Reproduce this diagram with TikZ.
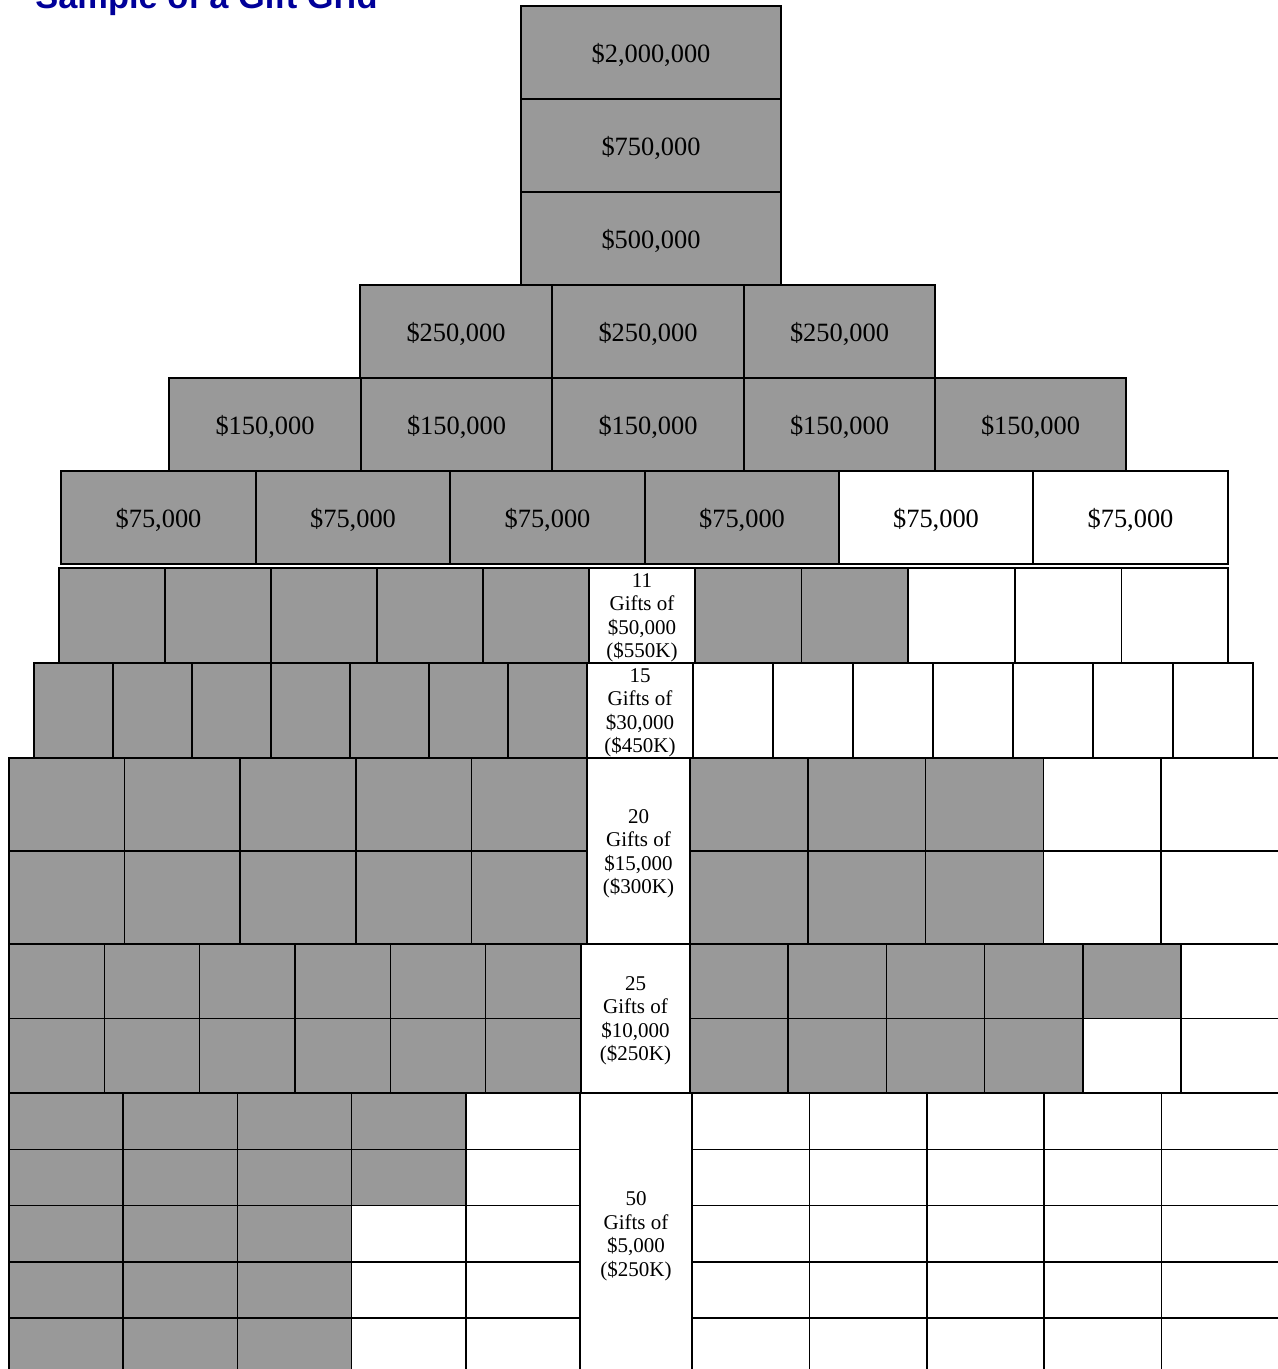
\documentclass[tikz,border=0pt]{standalone}
\usepackage{fontspec}
\setmainfont{Liberation Serif}
\newfontfamily\titlefont{Liberation Sans}
\definecolor{cellgray}{RGB}{153,153,153}
\definecolor{titleblue}{RGB}{0,0,153}
\tikzset{
  cellline/.style={draw=black, line width=0.8pt},
  bigtxt/.style={inner sep=0pt, font=\fontsize{13.2pt}{15pt}\selectfont},
  smalltxt/.style={inner sep=0pt, align=center, font=\fontsize{10.5pt}{11.75pt}\selectfont},
  titletxt/.style={inner sep=0pt, anchor=base west, text=titleblue, font=\titlefont\bfseries\fontsize{17.2pt}{20pt}\selectfont}
}
% x0, width, y0, height, count, number of gray cells from left
\newcommand\cellrow[6]{%
  \foreach \i in {1,...,#5}{%
    \pgfmathsetmacro\xa{#1+(\i-1)*#2}%
    \pgfmathsetmacro\xb{#1+\i*#2}%
    \ifnum\i>#6\relax\def\cf{white}\else\def\cf{cellgray}\fi
    \filldraw[cellline, fill=\cf] (\xa,#3) rectangle (\xb,#3+#4);
  }}
% name, x0, y0, x1, y1, fill, text
\newcommand\bigbox[7]{%
  \filldraw[cellline, fill=#6] (#2,#3) rectangle (#4,#5);
  \node[bigtxt] (#1) at ({(#2+#4)/2},{(#3+#5)/2+2}) {#7};}
% name, x0, y0, x1, y1, text
\newcommand\labelbox[6]{%
  \filldraw[cellline, fill=white] (#2,#3) rectangle (#4,#5);
  \node[smalltxt] (#1) at ({(#2+#4)/2},{(#3+#5)/2+2.5}) {#6};}
\begin{document}
\begin{tikzpicture}[x=0.5pt,y=-0.5pt]
\useasboundingbox (0,0) rectangle (1278,1369);
\clip (0,0) rectangle (1278,1369);
\fill[white] (0,0) rectangle (1278,1369);
\node[titletxt] (title) at (35,8.5) {Sample of a Gift Grid};
% top tiers
\bigbox{a1}{521}{6}{781}{99}{cellgray}{\$2,000,000}
\bigbox{a2}{521}{99}{781}{192}{cellgray}{\$750,000}
\bigbox{a3}{521}{192}{781}{285}{cellgray}{\$500,000}
\bigbox{b1}{360}{285}{552}{378}{cellgray}{\$250,000}
\bigbox{b2}{552}{285}{744}{378}{cellgray}{\$250,000}
\bigbox{b3}{744}{285}{935}{378}{cellgray}{\$250,000}
\bigbox{c1}{169}{378}{361}{471}{cellgray}{\$150,000}
\bigbox{c2}{361}{378}{552}{471}{cellgray}{\$150,000}
\bigbox{c3}{552}{378}{744}{471}{cellgray}{\$150,000}
\bigbox{c4}{744}{378}{935}{471}{cellgray}{\$150,000}
\bigbox{c5}{935}{378}{1126}{471}{cellgray}{\$150,000}
\bigbox{d1}{61}{471}{256}{564}{cellgray}{\$75,000}
\bigbox{d2}{256}{471}{450}{564}{cellgray}{\$75,000}
\bigbox{d3}{450}{471}{645}{564}{cellgray}{\$75,000}
\bigbox{d4}{645}{471}{839}{564}{cellgray}{\$75,000}
\bigbox{d5}{839}{471}{1033}{564}{white}{\$75,000}
\bigbox{d6}{1033}{471}{1228}{564}{white}{\$75,000}
% 11 gifts of $50,000
\cellrow{59}{106}{568}{95}{5}{5}
\cellrow{695}{106.6}{568}{95}{5}{2}
\labelbox{e}{589}{568}{695}{663}{11\\Gifts of\\\$50,000\\(\$550K)}
% 15 gifts of $30,000
\cellrow{34}{79}{663}{95}{7}{7}
\cellrow{693}{80}{663}{95}{7}{0}
\labelbox{f}{587}{663}{693}{758}{15\\Gifts of\\\$30,000\\(\$450K)}
% 20 gifts of $15,000
\cellrow{9}{115.6}{758}{93}{5}{5}
\cellrow{9}{115.6}{851}{93}{5}{5}
\cellrow{690}{117.8}{758}{93}{5}{3}
\cellrow{690}{117.8}{851}{93}{5}{3}
\labelbox{g}{587}{758}{690}{944}{20\\Gifts of\\\$15,000\\(\$300K)}
% 25 gifts of $10,000
\cellrow{9}{95.33}{944}{74.5}{6}{6}
\cellrow{9}{95.33}{1018.5}{74.5}{6}{6}
\cellrow{690}{98.2}{944}{74.5}{6}{5}
\cellrow{690}{98.2}{1018.5}{74.5}{6}{4}
\labelbox{h}{581}{944}{690}{1093}{25\\Gifts of\\\$10,000\\(\$250K)}
% 50 gifts of $5,000
\cellrow{9}{114.2}{1093}{56.3}{5}{4}
\cellrow{9}{114.2}{1149.3}{56.3}{5}{4}
\cellrow{9}{114.2}{1205.6}{56.3}{5}{3}
\cellrow{9}{114.2}{1261.9}{56.3}{5}{3}
\cellrow{9}{114.2}{1318.2}{56.3}{5}{3}
\foreach \r in {0,...,4}{\cellrow{692}{117.4}{1093+\r*56.3}{56.3}{5}{0}}
\labelbox{k}{580}{1093}{692}{1374.5}{50\\Gifts of\\\$5,000\\(\$250K)}
\end{tikzpicture}
\end{document}
